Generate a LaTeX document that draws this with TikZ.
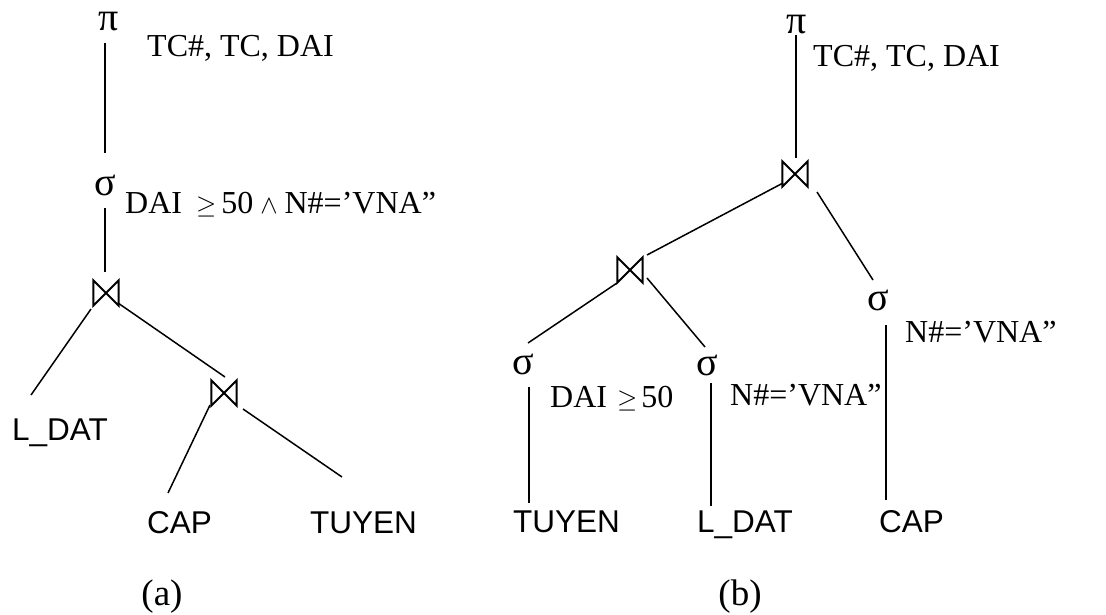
\RequirePackage{fix-cm}
\documentclass[tikz,border=0pt]{standalone}
\usepackage{fontspec}
\setmainfont{Liberation Serif}
\setsansfont{Liberation Sans}
\usetikzlibrary{calc}
\newcommand{\mygeq}{{\fontsize{26}{30}\selectfont$\geq$}}
\newcommand{\mywedge}{{\fontsize{26}{30}\selectfont$\wedge$}}
\begin{document}
\begin{tikzpicture}[x=1pt,y=-1pt,
  lbl/.style={font=\fontsize{32}{36}\selectfont, anchor=base west, inner sep=0pt},
  rel/.style={font=\sffamily\fontsize{31.5}{36}\selectfont, anchor=base west, inner sep=0pt},
  op/.style={font=\fontsize{40}{44}\selectfont, anchor=base, inner sep=0pt},
  figcap/.style={font=\fontsize{37}{42}\selectfont, anchor=base, inner sep=0pt},
  joinbox/.style={minimum width=25pt, minimum height=25pt, inner sep=0pt},
  tie/.style={line width=2pt, line join=miter},
  edge/.style={line width=1.5pt}]
\useasboundingbox (0,0) rectangle (1106,615);

% ---------- tree (a) ----------
\node[op] (pia) at (109,31) {π};
\node[lbl] (pila) at (147,57) {TC\#, TC, DAI};
\node[op] (sia) at (105,195) {σ};
\node[lbl] (sila) at (125,213) {DAI\hspace{14pt}\mygeq\hspace{5pt}50\hspace{7pt}\mywedge\hspace{7pt}N\#=’VNA”};
\node[joinbox] (ja1) at (106,293) {};
\node[joinbox] (ja2) at (224,393) {};
\node[rel] (ldata) at (12,440) {L\_DAT};
\node[rel] (capa) at (147,533) {CAP};
\node[rel] (tuyena) at (310,533) {TUYEN};
\node[figcap] (capta) at (162,605) {(a)};

\foreach \j in {ja1,ja2}
  \draw[tie] (\j.north west) -- (\j.south west) -- (\j.north east) -- (\j.south east) -- cycle;

\draw[edge] ($(pia.base)+(-4,12)$) -- ($(sia.base)+(0,-42)$);
\draw[edge] ($(sia.base)+(0,13)$) -- ($(ja1)+(-1,-21)$);
\draw[edge] ($(ja1)+(-15,16)$) -- ($(ldata.base west)+(19,-45)$);
\draw[edge] ($(ja1)+(12,10)$) -- ($(ja2)+(1,-16)$);
\draw[edge] ($(ja2)+(-14,12)$) -- ($(capa.base west)+(21,-40)$);
\draw[edge] ($(ja2)+(19,16)$) -- ($(tuyena.base west)+(32,-56)$);

% ---------- tree (b) ----------
\node[op] (pib) at (797,34) {π};
\node[lbl] (pilb) at (813,67) {TC\#, TC, DAI};
\node[joinbox] (jb1) at (795,174) {};
\node[joinbox] (jb2) at (630,270) {};
\node[op] (sbl) at (523,374) {σ};
\node[op] (sbm) at (707,375) {σ};
\node[op] (sbr) at (878,310) {σ};
\node[lbl] (slbl) at (550,407) {DAI\hspace{10pt}\mygeq\hspace{4pt}50};
\node[lbl] (slbm) at (730,405) {N\#=’VNA”};
\node[lbl] (slbr) at (905,342) {N\#=’VNA”};
\node[rel] (tuyenb) at (513,532) {TUYEN};
\node[rel] (ldatb) at (697,532) {L\_DAT};
\node[rel] (capb) at (879,532) {CAP};
\node[figcap] (captb) at (740,605) {(b)};

\foreach \j in {jb1,jb2}
  \draw[tie] (\j.north west) -- (\j.south west) -- (\j.north east) -- (\j.south east) -- cycle;

\draw[edge] ($(pib.base)+(-1,1)$) -- ($(jb1)+(1,-16)$);
\draw[edge] ($(jb1)+(-12,9)$) -- ($(jb2)+(17,-15)$);
\draw[edge] ($(jb1)+(22,18)$) -- ($(sbr.base)+(-5,-30)$);
\draw[edge] ($(jb2)+(-13,13)$) -- ($(sbl.base)+(5,-31)$);
\draw[edge] ($(jb2)+(17,8)$) -- ($(sbm.base)+(-2,-28)$);
\draw[edge] ($(sbl.base)+(6,13)$) -- ($(tuyenb.base west)+(16,-29)$);
\draw[edge] ($(sbm.base)+(4,8)$) -- ($(ldatb.base west)+(14,-26)$);
\draw[edge] ($(sbr.base)+(8,15)$) -- ($(capb.base west)+(7,-32)$);
\end{tikzpicture}
\end{document}
